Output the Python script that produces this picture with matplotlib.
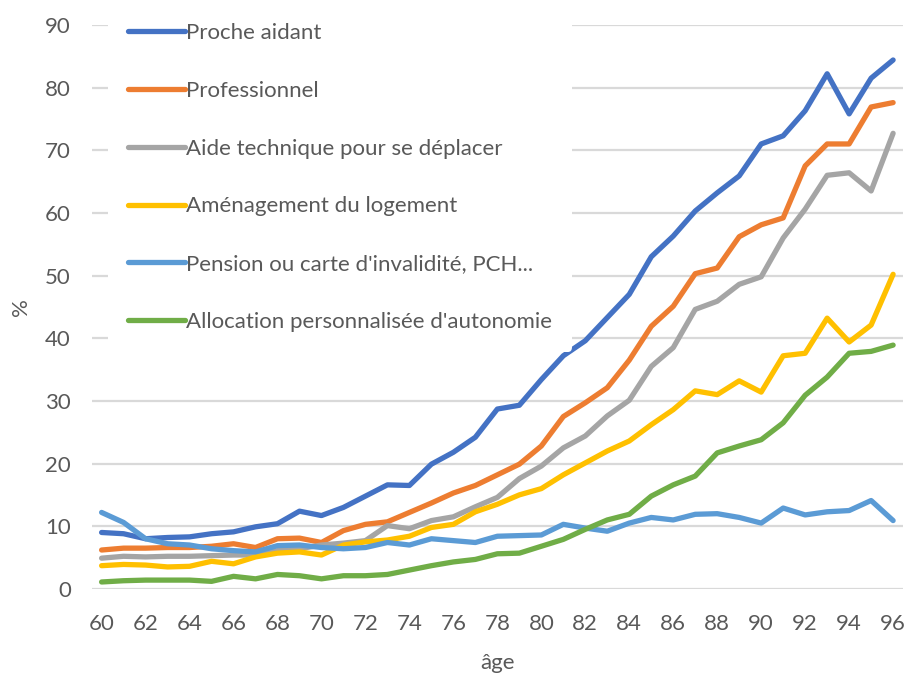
import matplotlib.pyplot as plt

ages = list(range(60, 97))

proche_aidant = [9.0, 8.8, 8.0, 8.2, 8.3, 8.8, 9.1, 9.9, 10.4, 12.4,
                 11.7, 13.0, 14.8, 16.6, 16.5, 19.9, 21.8, 24.2, 28.7, 29.3,
                 33.4, 37.2, 39.6, 43.3, 47.0, 53.0, 56.3, 60.3, 63.2, 65.9,
                 71.0, 72.3, 76.3, 82.2, 75.8, 81.5, 84.4]
professionnel = [6.2, 6.5, 6.5, 6.6, 6.6, 6.8, 7.2, 6.6, 8.0, 8.1,
                 7.4, 9.3, 10.3, 10.7, 12.2, 13.7, 15.3, 16.5, 18.2, 19.9,
                 22.8, 27.5, 29.7, 32.1, 36.5, 41.9, 45.1, 50.3, 51.2, 56.2,
                 58.1, 59.2, 67.5, 71.0, 71.0, 76.9, 77.6]
aide_technique = [4.9, 5.2, 5.1, 5.2, 5.2, 5.3, 5.4, 5.4, 6.1, 6.4,
                  7.0, 7.3, 7.7, 10.1, 9.6, 10.9, 11.5, 13.1, 14.6, 17.6,
                  19.6, 22.5, 24.4, 27.6, 30.1, 35.5, 38.5, 44.6, 45.9, 48.6,
                  49.8, 56.0, 60.6, 66.0, 66.4, 63.5, 72.7]
amenagement = [3.7, 3.9, 3.8, 3.5, 3.6, 4.4, 4.0, 5.1, 5.7, 5.9,
               5.4, 7.0, 7.5, 7.8, 8.4, 9.8, 10.3, 12.3, 13.5, 15.0,
               16.0, 18.2, 20.1, 22.0, 23.6, 26.2, 28.6, 31.6, 31.0, 33.2,
               31.4, 37.2, 37.6, 43.2, 39.4, 42.1, 50.2]
pension = [12.2, 10.6, 8.0, 7.2, 7.0, 6.4, 6.1, 5.9, 6.9, 7.0,
           6.6, 6.4, 6.6, 7.4, 7.0, 8.0, 7.7, 7.4, 8.4, 8.5,
           8.6, 10.3, 9.7, 9.2, 10.5, 11.4, 11.0, 11.9, 12.0, 11.4,
           10.5, 12.9, 11.8, 12.3, 12.5, 14.1, 10.9]
apa = [1.1, 1.3, 1.4, 1.4, 1.4, 1.2, 2.0, 1.6, 2.3, 2.1,
       1.6, 2.1, 2.1, 2.3, 3.0, 3.7, 4.3, 4.7, 5.6, 5.7,
       6.8, 7.9, 9.5, 11.0, 11.9, 14.8, 16.6, 18.0, 21.7, 22.8,
       23.8, 26.5, 30.9, 33.8, 37.6, 37.9, 38.9]

labels = ["Proche aidant", "Professionnel", "Aide technique pour se déplacer",
          "Aménagement du logement", "Pension ou carte d'invalidité, PCH...",
          "Allocation personnalisée d'autonomie"]
colors = ["#4472C4", "#ED7D31", "#A5A5A5", "#FFC000", "#5B9BD5", "#70AD47"]
series = [proche_aidant, professionnel, aide_technique, amenagement, pension, apa]

plt.rcParams['font.family'] = ['Lato', 'DejaVu Sans']
text_color = "#595959"

fig = plt.figure(figsize=(9.08, 6.73), dpi=100)
ax = fig.add_axes([0.101, 0.125, 0.8935, 0.838])

for vals, lab, col in zip(series, labels, colors):
    ax.plot(ages, vals, color=col, linewidth=3.8, label=lab,
            solid_joinstyle='round', solid_capstyle='round')

ax.set_xlim(59.55, 96.45)
ax.set_ylim(0, 90)
ax.set_xticks(range(60, 97, 2))
ax.set_yticks(range(0, 91, 10))
ax.grid(axis='y', color='#D9D9D9', linewidth=1.6)
ax.set_axisbelow(True)
for s in ax.spines.values():
    s.set_visible(False)
ax.tick_params(length=0, labelsize=16, colors=text_color)
ax.tick_params(axis='y', pad=15)
ax.tick_params(axis='x', pad=18)
ax.set_xlabel("âge", fontsize=16, color=text_color, labelpad=14)
ax.set_ylabel("%", fontsize=16, color=text_color, labelpad=10)

leg = ax.legend(loc='upper left', bbox_to_anchor=(0.119, 0.9955),
                bbox_transform=fig.transFigure, fontsize=16,
                handlelength=2.57, handletextpad=0.05, labelspacing=1.70,
                frameon=True, facecolor='white', edgecolor='none',
                framealpha=1, borderpad=0.9, borderaxespad=0)
for t in leg.get_texts():
    t.set_color(text_color)

fig.savefig("out.png", dpi=100)
